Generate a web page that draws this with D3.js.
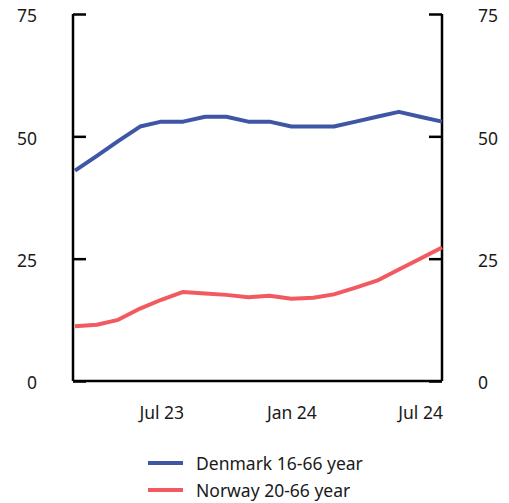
<!DOCTYPE html>
<html>
<head>
<meta charset="utf-8">
<script src="https://cdn.jsdelivr.net/npm/d3@7"></script>
<style>
  body { margin: 0; background: #fff; }
  svg text { font-family: "Noto Sans", "Open Sans", sans-serif; font-size: 17.5px; fill: #1a1a1a; }
</style>
</head>
<body>
<svg id="chart" width="509" height="503"></svg>
<script>
// months Mar 23 .. Aug 24
var months = ["2023-03","2023-04","2023-05","2023-06","2023-07","2023-08","2023-09","2023-10","2023-11","2023-12",
              "2024-01","2024-02","2024-03","2024-04","2024-05","2024-06","2024-07","2024-08"];
var denmark = [43, 46, 49, 52, 53, 53, 54, 54, 53, 53, 52, 52, 52, 53, 54, 55, 54, 53];
var norway  = [11.2, 11.5, 12.5, 14.8, 16.6, 18.2, 17.9, 17.6, 17.1, 17.4, 16.8, 17.0, 17.7, 19.1, 20.5, 22.8, 25.0, 27.3];
var yTicks = [0, 25, 50, 75];
var xTicks = ["2023-07", "2024-01", "2024-07"];
var seriesNames = ["Denmark 16-66 year", "Norway 20-66 year"];
var colors = ["#3f56a6", "#f15a60"];

var parse = d3.timeParse("%Y-%m");
var fmt = d3.timeFormat("%b %y");

var m = {left: 73, right: 442, top: 14, bottom: 381};
var svg = d3.select("#chart");

var x = d3.scaleTime()
  .domain([parse(months[0]), parse(months[months.length - 1])])
  .range([m.left + 2, m.right]);
var y = d3.scaleLinear().domain([0, 75]).range([m.bottom, m.top]);

// y axes, ticks pointing inward
var yl = svg.append("g").attr("transform", "translate(" + m.left + ",0)")
  .call(d3.axisRight(y).tickValues(yTicks).tickSize(13).tickFormat(""));
var yr = svg.append("g").attr("transform", "translate(" + m.right + ",0)")
  .call(d3.axisLeft(y).tickValues(yTicks).tickSize(13).tickFormat(""));
[yl, yr].forEach(function (g) {
  g.select(".domain").attr("stroke", "#000").attr("stroke-width", 2.5)
    .attr("d", "M0," + m.top + "V" + m.bottom);
  g.selectAll(".tick line").attr("stroke", "#000").attr("stroke-width", 2.5);
});

// tick labels
svg.selectAll(".yl").data(yTicks).enter().append("text")
  .attr("x", 37).attr("y", function (d) { return y(d) + 2; })
  .attr("dy", "0.36em").attr("text-anchor", "end").text(function (d) { return d; });
svg.selectAll(".yr").data(yTicks).enter().append("text")
  .attr("x", 478).attr("y", function (d) { return y(d) + 2; })
  .attr("dy", "0.36em").attr("text-anchor", "start").text(function (d) { return d; });

// x axis
var xa = svg.append("g").attr("transform", "translate(0," + m.bottom + ")")
  .call(d3.axisBottom(x).tickValues(xTicks.map(parse)).tickSize(0).tickPadding(26).tickFormat(fmt));
xa.select(".domain").attr("stroke", "#000").attr("stroke-width", 2.5).attr("d", "M" + m.left + ",0H" + m.right);
xa.selectAll(".tick text").attr("font-size", null).attr("font-family", null).attr("fill", null);

var line = d3.line()
  .x(function (d, i) { return x(parse(months[i])); })
  .y(function (d) { return y(d); });

[denmark, norway].forEach(function (s, k) {
  svg.append("path").datum(s).attr("d", line)
    .attr("fill", "none").attr("stroke", colors[k]).attr("stroke-width", 4)
    .attr("stroke-linejoin", "round");
});

// legend
var leg = svg.selectAll(".leg").data(seriesNames).enter().append("g")
  .attr("transform", function (d, i) { return "translate(148," + (463 + i * 27) + ")"; });
leg.append("line").attr("x1", 0).attr("x2", 35)
  .attr("stroke", function (d, i) { return colors[i]; }).attr("stroke-width", 4);
leg.append("text").attr("x", 48).attr("y", 1).attr("dy", "0.36em").text(function (d) { return d; });
</script>
</body>
</html>
